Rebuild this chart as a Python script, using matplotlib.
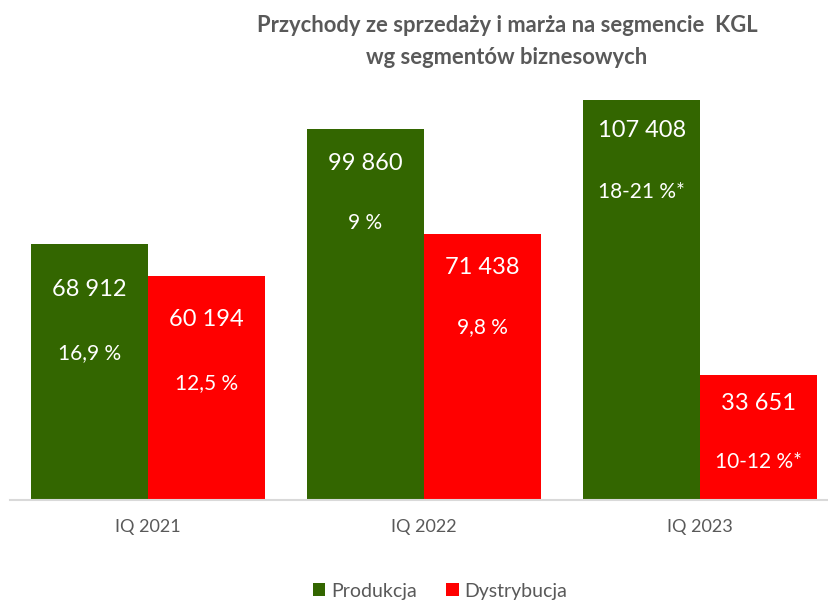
import matplotlib
matplotlib.use("Agg")
import matplotlib.pyplot as plt
import numpy as np

categories = ["IQ 2021", "IQ 2022", "IQ 2023"]
produkcja = [68912, 99860, 107408]
dystrybucja = [60194, 71438, 33651]
prod_labels = ["68 912", "99 860", "107 408"]
dyst_labels = ["60 194", "71 438", "33 651"]
prod_margin = ["16,9 %", "9 %", "18-21 %*"]
dyst_margin = ["12,5 %", "9,8 %", "10-12 %*"]
series_names = ["Produkcja", "Dystrybucja"]

plt.rcParams['font.family'] = ['Lato', 'DejaVu Sans']

W, H = 829, 604
fig = plt.figure(figsize=(W/100, H/100), dpi=100)
ax_left, ax_right, ax_top, ax_bottom = 10, 829, 90, 500
ax = fig.add_axes([ax_left/W, 1 - ax_bottom/H, (ax_right-ax_left)/W, (ax_bottom-ax_top)/H])

green = "#336600"
red = "#ff0000"
x = np.arange(len(categories))
bw = 0.424
b1 = ax.bar(x - bw/2, produkcja, bw, color=green, label=series_names[0])
b2 = ax.bar(x + bw/2, dystrybucja, bw, color=red, label=series_names[1])

ax.set_xlim(-0.5, 2.467)
ax.set_ylim(0, 110215)

# label offsets below bar top (points)
val_off_p = [33, 25, 22]
mar_off_p = [79, 68, 66]
val_off_d = [31, 24, 21]
mar_off_d = [77, 67, 63]
for i in range(3):
    for bars, labs, mars, vo, mo in [(b1, prod_labels, prod_margin, val_off_p, mar_off_p),
                                      (b2, dyst_labels, dyst_margin, val_off_d, mar_off_d)]:
        r = bars[i]
        cx = r.get_x() + r.get_width()/2
        top = r.get_height()
        ax.annotate(labs[i], (cx, top), xytext=(0, -vo[i]), textcoords="offset points",
                    ha="center", va="center", color="white", fontsize=17)
        ax.annotate(mars[i], (cx, top), xytext=(0, -mo[i]), textcoords="offset points",
                    ha="center", va="center", color="white", fontsize=15)

for s in ["top", "right", "left"]:
    ax.spines[s].set_visible(False)
ax.spines["bottom"].set_color("#d9d9d9")
ax.spines["bottom"].set_linewidth(1.5)
ax.set_yticks([])
ax.set_xticks(x)
ax.set_xticklabels(categories, color="#595959", fontsize=13)
ax.tick_params(axis="x", length=0, pad=14)

fig.text(507/W, 1 - 25/H, "Przychody ze sprzedaży i marża na segmencie  KGL",
         ha="center", va="center", fontsize=15.8, fontweight="bold", color="#595959")
fig.text(507/W, 1 - 57/H, "wg segmentów biznesowych",
         ha="center", va="center", fontsize=15.8, fontweight="bold", color="#595959")

fig.legend(handles=[b1, b2], labels=series_names, loc="center", bbox_to_anchor=(440/W, 1 - 591/H),
           ncol=2, frameon=False, fontsize=14, labelcolor="#595959",
           handlelength=0.65, handleheight=0.65, handletextpad=0.3, columnspacing=1.5)

fig.savefig("out.png", dpi=100)
